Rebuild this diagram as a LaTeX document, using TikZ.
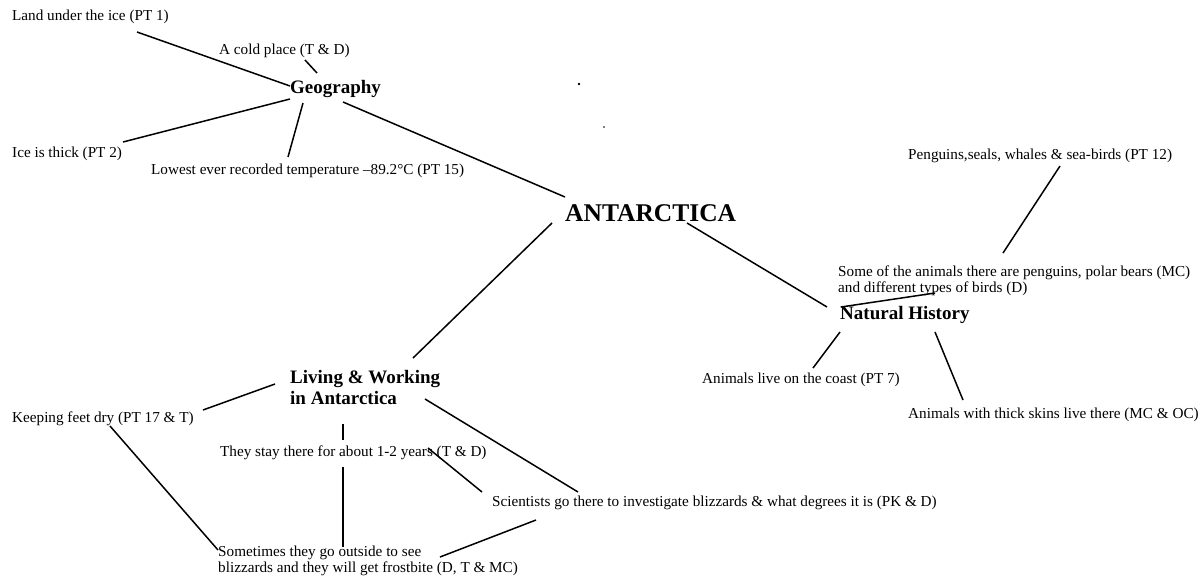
\documentclass[tikz,border=0pt]{standalone}
\usepackage{fontspec}
\setmainfont{Liberation Serif}
\begin{document}
\begin{tikzpicture}[x=1pt,y=-1pt,
  note/.style={anchor=west,inner sep=0pt,font=\fontsize{15.2}{16}\selectfont,align=left},
  topic/.style={anchor=west,inner sep=0pt,font=\bfseries\fontsize{19}{21}\selectfont,align=left},
  hub/.style={anchor=west,inner sep=0pt,font=\bfseries\fontsize{25.5}{27}\selectfont},
  link/.style={line width=1.5pt},
  speck/.style={fill=black,draw=none}]
\fill[white] (0,0) rectangle (1201,582);
\path[use as bounding box] (0,0) rectangle (1201,582);

% central topic and branches
\node[hub]   (ant)  at (565,213) {ANTARCTICA};
\node[topic] (geo)  at (290,89)  {Geography};
\node[topic] (nat)  at (840,315) {Natural History};
\node[topic] (liv)  at (290,387) {Living \& Working\\in Antarctica};

% geography notes
\node[note] (land)   at (12,17)   {Land under the ice (PT 1)};
\node[note] (cold)   at (219,51)  {A cold place (T \& D)};
\node[note] (thick)  at (12,154)  {Ice is thick (PT 2)};
\node[note] (lowest) at (151,171) {Lowest ever recorded temperature --89.2°C (PT 15)};

% natural history notes
\node[note] (peng)   at (908,156) {Penguins,seals, whales \& sea-birds (PT 12)};
\node[note] (some)   at (838,281) {Some of the animals there are penguins, polar bears (MC)\\and different types of birds (D)};
\node[note] (coast)  at (702,380) {Animals live on the coast (PT 7)};
\node[note] (skins)  at (908,415) {Animals with thick skins live there (MC \& OC)};

% living and working notes
\node[note] (feet)   at (12,419)  {Keeping feet dry (PT 17 \& T)};
\node[note] (stay)   at (220,453) {They stay there for about 1-2 years (T \& D)};
\node[note] (sci)    at (492,503) {Scientists go there to investigate blizzards \& what degrees it is (PK \& D)};
\node[note] (out)    at (218,561) {Sometimes they go outside to see\\blizzards and they will get frostbite (D, T \& MC)};

% connector ends
\coordinate (land-e)  at (137,32);  \coordinate (geo-nw)  at (290,86);
\coordinate (cold-e)  at (305,60);  \coordinate (geo-n)   at (317,73);
\coordinate (thick-e) at (123,142); \coordinate (geo-w)   at (290,99);
\coordinate (low-e)   at (288,157); \coordinate (geo-s)   at (303,103);
\coordinate (geo-se)  at (343,102); \coordinate (ant-nw)  at (565,197);
\coordinate (ant-sw)  at (552,223); \coordinate (liv-ne)  at (413,358);
\coordinate (ant-se)  at (687,223); \coordinate (nat-nw)  at (827,307);
\coordinate (peng-e)  at (1060,166);\coordinate (some-n)  at (1003,253);
\coordinate (some-s)  at (935,293); \coordinate (nat-n)   at (841,307);
\coordinate (nat-sw)  at (840,332); \coordinate (coast-e) at (813,368);
\coordinate (nat-se)  at (935,332); \coordinate (skins-e) at (963,400);
\coordinate (feet-e)  at (203,410); \coordinate (liv-w)   at (275,384);
\coordinate (liv-s)   at (343,424); \coordinate (stay-n)  at (343,440);
\coordinate (liv-se)  at (425,399); \coordinate (sci-n)   at (578,492);
\coordinate (stay-e)  at (428,448); \coordinate (sci-nw)  at (482,492);
\coordinate (stay-s)  at (343,467); \coordinate (out-n)   at (343,547);
\coordinate (feet-s)  at (110,426); \coordinate (out-w)   at (218,550);
\coordinate (sci-sw)  at (536,520); \coordinate (out-e)   at (440,557);

\draw[link] (land-e) -- (geo-nw);
\draw[link] (cold-e) -- (geo-n);
\draw[link] (thick-e) -- (geo-w);
\draw[link] (low-e) -- (geo-s);
\draw[link] (geo-se) -- (ant-nw);
\draw[link] (ant-sw) -- (liv-ne);
\draw[link] (ant-se) -- (nat-nw);
\draw[link] (peng-e) -- (some-n);
\draw[link] (some-s) -- (nat-n);
\draw[link] (nat-sw) -- (coast-e);
\draw[link] (nat-se) -- (skins-e);
\draw[link] (feet-e) -- (liv-w);
\draw[link] (liv-s) -- (stay-n);
\draw[link] (liv-se) -- (sci-n);
\draw[link] (stay-e) -- (sci-nw);
\draw[link] (stay-s) -- (out-n);
\draw[link] (feet-s) -- (out-w);
\draw[link] (sci-sw) -- (out-e);

% two small ink specks
\fill[speck] (579,84) circle (1.3);
\fill[speck] (604,127) circle (0.8);
\end{tikzpicture}
\end{document}
